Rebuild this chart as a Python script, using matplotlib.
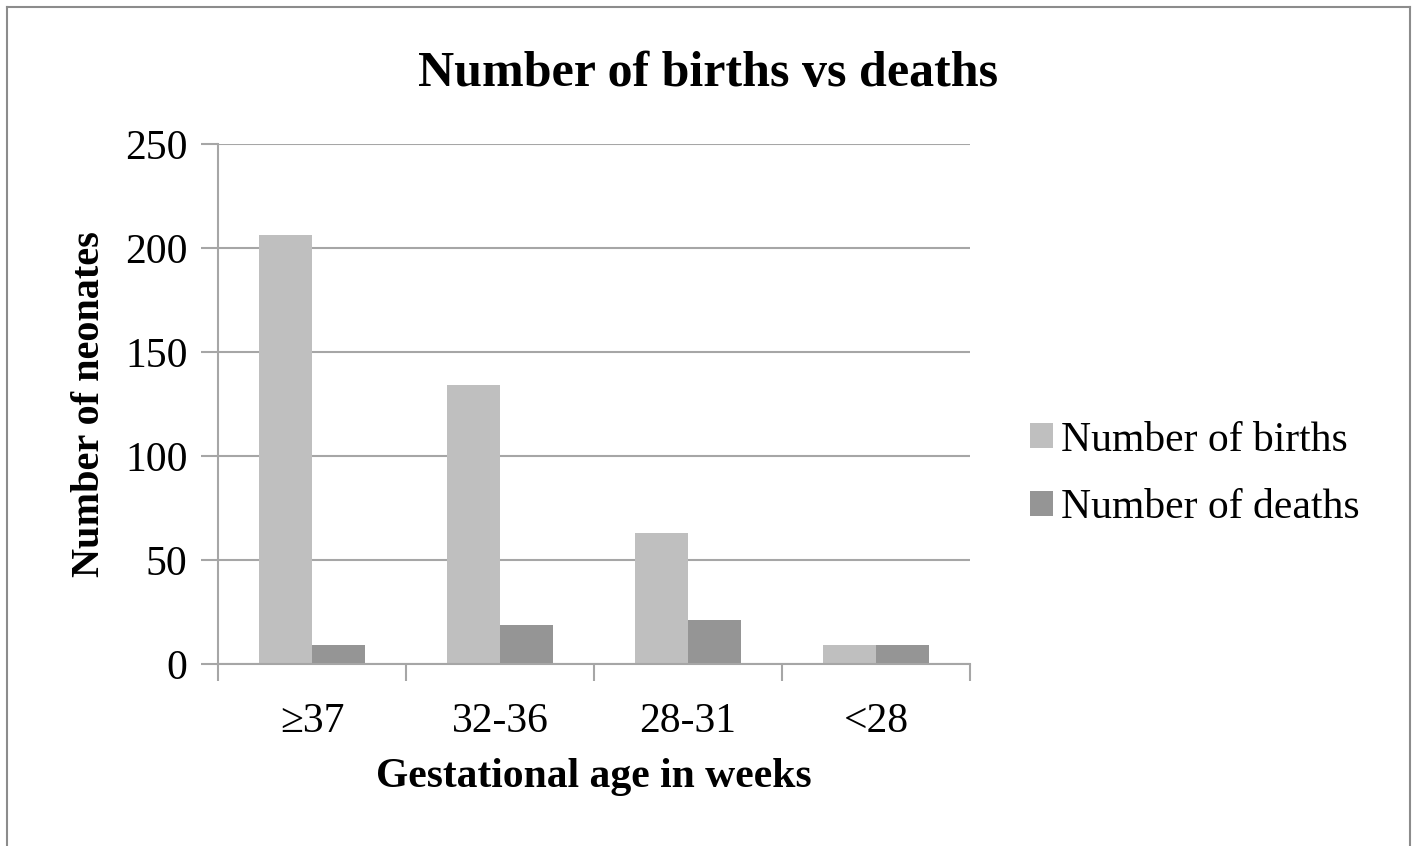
import matplotlib.pyplot as plt
import matplotlib.lines as mlines
import numpy as np

plt.rcParams['font.family'] = 'Liberation Serif'

# Dados
categories = ['≥37', '32-36', '28-31', '<28']
births = [206, 134, 63, 9]
deaths = [9, 19, 21, 9]

BIRTH_COLOR = '#bfbfbf'
DEATH_COLOR = '#959595'
GRID_COLOR = '#a6a6a6'

fig = plt.figure(figsize=(14.16, 8.46), dpi=100)
ax = fig.add_axes([0.154, 0.215, 0.531, 0.615])

x = np.arange(len(categories))
width = 0.28
ax.bar(x - width / 2, births, width, color=BIRTH_COLOR, label='Number of births', zorder=2)
ax.bar(x + width / 2, deaths, width, color=DEATH_COLOR, label='Number of deaths', zorder=2)

ax.set_xlim(-0.5, len(categories) - 0.5)
ax.set_ylim(0, 250)
ax.set_yticks(range(0, 251, 50))
ax.set_xticks(np.arange(-0.5, len(categories), 1.0), minor=False)
ax.set_xticklabels([])
ax.set_xticks(x, minor=True)
ax.set_xticklabels(categories, minor=True)
ax.tick_params(axis='x', which='minor', length=0, labelsize=30, pad=28)
ax.tick_params(axis='x', which='major', length=12, width=1.5, color=GRID_COLOR, direction='out')
ax.tick_params(axis='y', length=12, width=1.5, color=GRID_COLOR, direction='out',
               labelsize=30, pad=10)

ax.grid(axis='y', color=GRID_COLOR, linewidth=1.5, zorder=0)
ax.set_axisbelow(True)
for side in ['top', 'right']:
    ax.spines[side].set_visible(False)
for side in ['left', 'bottom']:
    ax.spines[side].set_color(GRID_COLOR)
    ax.spines[side].set_linewidth(1.5)

ax.set_xlabel('Gestational age in weeks', fontsize=30, fontweight='bold', labelpad=12)
ax.set_ylabel('Number of neonates', fontsize=29, fontweight='bold', labelpad=12)
fig.suptitle('Number of births vs deaths', fontsize=36, fontweight='bold', y=0.94)

ax.legend(loc='center left', bbox_to_anchor=(1.08, 0.365), frameon=False, fontsize=30,
          handlelength=0.55, handleheight=0.55, handletextpad=0.2, labelspacing=0.7,
          borderaxespad=0, borderpad=0)

# Borda da figura
for xs, ys in [([0.005, 0.005], [0, 0.992]), ([0.005, 0.996], [0.992, 0.992]),
               ([0.996, 0.996], [0, 0.992])]:
    fig.add_artist(mlines.Line2D(xs, ys, color='#8c8c8c', linewidth=1.5,
                                 transform=fig.transFigure))

plt.savefig('out.png', dpi=100, facecolor='white')
plt.close()
